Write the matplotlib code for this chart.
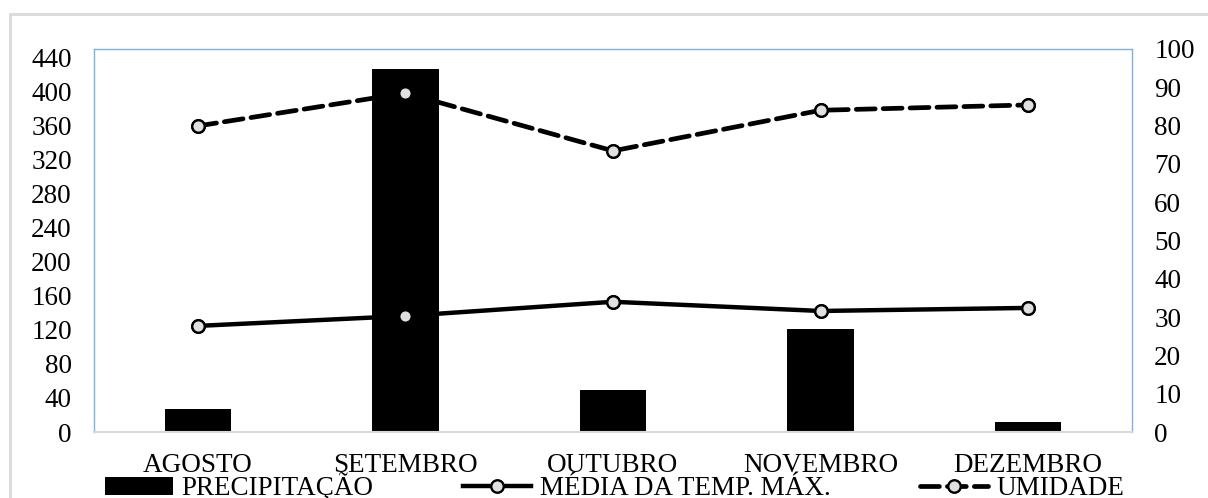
import numpy as np
import matplotlib.pyplot as plt
from matplotlib.patches import Rectangle

plt.rcParams['font.family'] = ['Liberation Serif', 'DejaVu Serif']

# dados
meses = ['AGOSTO', 'SETEMBRO', 'OUTUBRO', 'NOVEMBRO', 'DEZEMBRO']
precipitacao = [27, 426, 49, 121, 12]
temp_max = [27.7, 30.3, 34.0, 31.6, 32.4]
umidade = [79.9, 88.5, 73.4, 84.0, 85.4]

fs = 19.5
x = np.arange(len(meses))

fig = plt.figure(figsize=(12.08, 4.98), dpi=100)
# moldura externa cinza (sai da imagem a direita e embaixo)
fig.patches.append(Rectangle((10/1208, -0.5), 1.2, 0.5 + (498-14)/498, transform=fig.transFigure,
                             fill=False, edgecolor='#d9d9d9', linewidth=2, zorder=0))

ax1 = fig.add_axes([94/1208, (498-432)/498, (1132-94)/1208, (432-49)/498])
ax2 = ax1.twinx()
ax3 = ax1.twinx()
ax2.set_zorder(1)
ax1.set_zorder(2)
ax3.set_zorder(3)
ax1.patch.set_visible(False)
ax3.patch.set_visible(False)

mk = dict(marker='o', ms=9, mfc='#e0e0e0', mec='black', mew=1.7)
ax1.bar(x, precipitacao, width=0.32, color='black', label='PRECIPITAÇÃO')
l1, = ax2.plot(x, temp_max, color='black', lw=3.2, label='MÉDIA DA TEMP. MÁX.', **mk)
l2, = ax2.plot(x, umidade, color='black', lw=3.4, ls=(0, (4, 1.7)), dash_capstyle='round',
               label='UMIDADE', **mk)
ax3.plot(x, temp_max, ls='none', **mk)
ax3.plot(x, umidade, ls='none', **mk)

ax1.set_xlim(-0.5, 4.5)
ax1.set_ylim(0, 450)
ax1.set_yticks(np.arange(0, 441, 40))
ax2.set_ylim(0, 100)
ax2.set_yticks(np.arange(0, 101, 10))
ax3.set_ylim(0, 100)
ax3.axis('off')

ax1.set_xticks(x)
ax1.set_xticklabels(meses)
ax1.tick_params(axis='x', length=0, pad=15, labelsize=fs)
ax1.tick_params(axis='y', length=0, pad=16, labelsize=fs)
ax2.tick_params(axis='y', length=0, pad=16, labelsize=fs)

for s in ['left', 'top', 'right']:
    ax1.spines[s].set_color('#7fb0e0')
    ax1.spines[s].set_linewidth(1)
ax1.spines['bottom'].set_color('#d9d9d9')
ax1.spines['bottom'].set_linewidth(1.5)
for s in ax2.spines.values():
    s.set_visible(False)

bar_h = ax1.containers[0]
fig.legend([bar_h, l1, l2], ['PRECIPITAÇÃO', 'MÉDIA DA TEMP. MÁX.', 'UMIDADE'],
           loc='center left', bbox_to_anchor=(105/1208, (498-487)/498), ncol=3,
           frameon=False, fontsize=fs, handlelength=2.5, handletextpad=0.33,
           columnspacing=3.3, borderaxespad=0, borderpad=0)

fig.savefig('out.png', dpi=100)
